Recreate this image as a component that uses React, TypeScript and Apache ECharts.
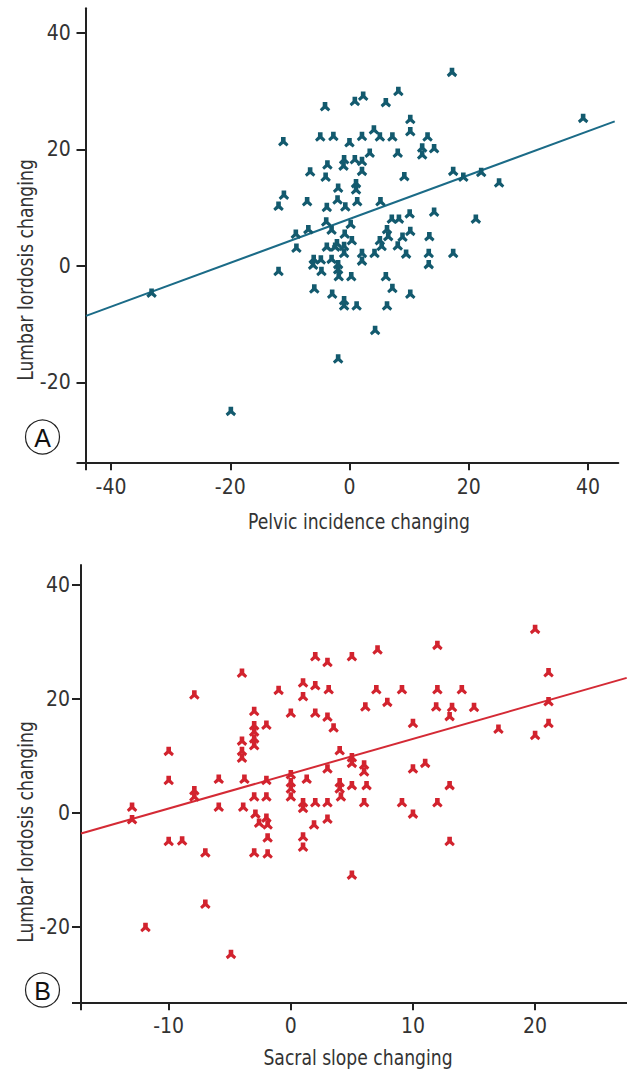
import React, { useEffect, useRef } from "react";
import * as echarts from "echarts";

// Panel A: Pelvic incidence changing vs Lumbar lordosis changing
const pelvicVsLordosis: [number, number][] = [
  [-33.2, -4.7], [-19.9, -25.0], [39.2, 25.3], [17.2, 33.2], [25.1, 14.2],
  [-11.1, 21.3], [-11.0, 12.1], [-11.9, 10.2], [-11.9, -1.0], [-9.0, 5.4], [-8.9, 3.0],
  [8.2, 29.9], [2.3, 29.1], [0.9, 28.2], [6.1, 28.0], [-4.1, 27.3], [10.2, 25.1], [4.1, 23.3],
  [10.2, 23.0], [5.1, 22.1], [-4.9, 22.1], [-2.7, 22.2], [2.1, 22.2], [7.2, 22.1], [13.1, 22.1],
  [0, 21.1], [12.2, 20.2], [14.2, 20.1], [12.2, 19.0], [3.4, 19.3], [8.1, 19.3], [-0.9, 18.2],
  [0.9, 18.2], [2.1, 17.9], [-1.0, 17.1], [-3.7, 17.3], [-6.6, 16.1], [-4.0, 15.2], [2.1, 16.2],
  [9.2, 15.3], [17.4, 16.2], [19.1, 15.2], [22.1, 16.0], [-1.9, 13.3], [1.1, 14.1], [1.1, 13.0],
  [-7.1, 11.0], [-3.8, 10.0], [-2.0, 11.3], [-0.7, 10.1], [1.3, 11.0], [5.2, 11.0], [-6.9, 6.2],
  [-3.9, 7.5], [-3.0, 6.1], [0.2, 7.1], [-0.8, 5.4], [0.4, 4.3], [7.1, 8.0], [8.3, 8.0],
  [10.1, 8.9], [14.2, 9.2], [21.2, 8.0], [6.3, 6.2], [6.5, 5.0], [10.2, 5.9], [5.1, 4.3],
  [8.9, 4.9], [13.4, 5.0],
  [-2.1, 3.8], [-3.8, 3.2], [-2.4, 3.2], [-0.9, 3.3], [-0.9, 2.1], [5.4, 3.3], [8.1, 3.4],
  [9.5, 2.0], [4.2, 2.1], [2.1, 2.1], [2.1, 0.8], [13.3, 2.1], [17.4, 2.1], [13.3, 0.2],
  [-6.0, 1.1], [-4.8, 1.0], [-6.1, 0.1], [-3.0, 1.1], [-1.9, 0.2], [-1.9, -0.7], [-4.7, -1.0],
  [-1.8, -1.9], [0.3, -1.9], [6.1, -1.9], [-5.9, -4.0], [-2.9, -4.9], [7.2, -3.9], [10.2, -4.9],
  [-0.9, -6.0], [-0.9, -6.9], [1.2, -6.9], [6.3, -6.9], [4.3, -11.1], [-1.9, -16.0],
];
const fitLineA: [number, number][] = [[-44.2, -8.6], [44.5, 24.8]];

// Panel B: Sacral slope changing vs Lumbar lordosis changing
const sacralVsLordosis: [number, number][] = [
  [-13, 1.0], [-13, -1.2], [-10, 10.8], [-10, 5.7], [-7.9, 20.7], [-7.9, 3.9], [-7.9, 2.8],
  [-5.9, 5.9], [-5.9, 1.0], [-4.0, 24.5], [-4.0, 12.6], [-4.0, 10.8], [-4.0, 9.6], [-3.8, 5.9],
  [-3.9, 1.0], [-3.0, 17.8], [-3.0, 15.3], [-3.0, 14.2], [-3.0, 13.0], [-3.0, 11.8], [-3.0, 2.8],
  [-2.0, 15.4], [-2.0, 5.7], [-2.0, 2.8], [-1.0, 21.5], [0, 17.5], [0, 6.7], [0, 5.3], [0, 4.2],
  [0, 2.8], [1.0, 22.8], [1.0, 20.4], [1.3, 5.9], [1.0, 1.8], [2.0, 27.4], [2.0, 22.3],
  [2.0, 17.5], [2.0, 1.8],
  [-2.9, -0.2], [-2.6, -1.8], [-2.0, -0.9], [-1.9, -2.1], [-1.9, -4.4], [-3.0, -7.0], [-1.9, -7.2],
  [-10.0, -5.0], [-8.9, -4.9], [-7.0, -7.0], [-7.0, -16.0], [-11.9, -20.1], [-4.9, -24.8],
  [1.0, 0.8], [1.9, -2.1], [1.0, -4.2], [1.0, -6.0],
  [20.0, 32.2], [12.0, 29.4], [7.1, 28.6], [5.0, 27.4], [3.0, 26.4], [21.1, 24.6], [3.1, 21.6],
  [7.0, 21.6], [9.1, 21.6], [12.0, 21.6], [14.0, 21.6], [6.1, 18.6], [7.9, 19.4], [11.9, 18.6],
  [13.2, 18.5], [15.0, 18.5], [21.1, 19.5], [13.0, 16.9], [3.0, 16.8], [3.5, 14.9], [10.0, 15.7],
  [17.0, 14.7], [21.1, 15.7], [20.0, 13.6], [4.0, 10.9], [5.0, 9.7], [5.0, 8.7], [6.0, 8.4],
  [6.0, 7.2], [3.0, 7.7], [10.0, 7.7], [11.0, 8.7], [4.0, 5.3], [4.0, 4.2], [4.1, 2.8],
  [5.0, 4.8], [6.2, 4.8], [13.0, 4.8], [3.0, 1.8], [6.0, 1.8], [9.1, 1.8], [12.0, 1.8],
  [10.0, -0.2], [3.0, -1.1], [13.0, -5.0], [5.0, -10.9],
];
const fitLineB: [number, number][] = [[-17.18, -3.6], [27.5, 23.7]];

// Axis ticks and labels
const xLabelsA = [-40, -20, 0, 20, 40];
const yLabelsA = [-20, 0, 20, 40];
const xLabelsB = [-10, 0, 10, 20];
const yLabelsB = [-20, 0, 20, 40];
const rangeXA: [number, number] = [-44.2, 45.1];
const rangeYA: [number, number] = [-33.8, 44.2];
const rangeXB: [number, number] = [-17.18, 27.5];
const rangeYB: [number, number] = [-33.2, 43.5];
const titleXA = "Pelvic incidence changing";
const titleXB = "Sacral slope changing";
const titleY = "Lumbar lordosis changing";

const FONT = '"Liberation Sans Narrow", "DejaVu Sans Condensed", "Roboto", sans-serif';
const MARKER = "path://M2.8 0 H7.2 V4 L10 6.8 L8.2 9 L5 6.4 L1.8 9 L0 6.8 L2.8 4 Z";
const TEAL = "#135a6e";
const TEAL_LINE = "#1b6b87";
const RED = "#d2232e";
const RED_LINE = "#d42a35";
const AXIS = "#222";
const TEXT = "#333";

function xAxisCfg(grid: number, range: [number, number], labels: number[], margin: number, tickLen: number) {
  return {
    type: "value",
    gridIndex: grid,
    min: range[0],
    max: range[1],
    axisLine: { show: true, onZero: false, lineStyle: { color: AXIS, width: 2 } },
    axisTick: { show: true, length: tickLen, lineStyle: { color: AXIS, width: 2 }, customValues: [range[0], ...labels] },
    axisLabel: { customValues: labels, fontFamily: FONT, fontSize: 21, color: TEXT, margin },
    splitLine: { show: false },
  };
}

function yAxisCfg(grid: number, range: [number, number], labels: number[], margin: number, tickLen: number) {
  return {
    type: "value",
    gridIndex: grid,
    min: range[0],
    max: range[1],
    axisLine: { show: true, onZero: false, lineStyle: { color: AXIS, width: 2 } },
    axisTick: { show: true, length: tickLen, lineStyle: { color: AXIS, width: 2 }, customValues: [range[0], ...labels] },
    axisLabel: { customValues: labels, fontFamily: FONT, fontSize: 21, color: TEXT, margin },
    splitLine: { show: false },
  };
}

function title(text: string, x: number, y: number, rotation: number) {
  return {
    type: "text", x, y, rotation, scaleX: 0.91,
    style: { text, fontFamily: FONT, fontSize: 21, fill: TEXT, textAlign: "center", textVerticalAlign: "middle" },
  };
}

function badge(letter: string, cx: number, cy: number) {
  return [
    { type: "circle", shape: { cx, cy, r: 17 }, style: { fill: "none", stroke: "#222", lineWidth: 1.2 } },
    {
      type: "text", x: cx, y: cy + 1,
      style: { text: letter, fontFamily: '"Liberation Sans", Arial, sans-serif', fontSize: 25, fill: "#111", textAlign: "center", textVerticalAlign: "middle" },
    },
  ];
}

export default function App() {
  const ref = useRef<HTMLDivElement>(null);
  useEffect(() => {
    if (!ref.current) return;
    const chart = echarts.init(ref.current, null, { renderer: "svg" });
    chart.setOption({
      animation: false,
      backgroundColor: "#fff",
      grid: [
        { left: 86, right: 8.7, top: 8.3, bottom: 1071 - 462.7 },
        { left: 81, right: 0.3, top: 565, bottom: 1071 - 1002.3 },
      ],
      xAxis: [
        xAxisCfg(0, rangeXA, xLabelsA, 14, 7.5),
        xAxisCfg(1, rangeXB, xLabelsB, 13, 8),
      ],
      yAxis: [
        yAxisCfg(0, rangeYA, yLabelsA, 15.3, 9.5),
        yAxisCfg(1, rangeYB, yLabelsB, 11, 9),
      ],
      graphic: [
        title(titleY, 26, 270, Math.PI / 2),
        title(titleY, 26, 832, Math.PI / 2),
        title(titleXA, 359, 522, 0),
        title(titleXB, 358, 1058, 0),
        ...badge("A", 42.5, 437),
        ...badge("B", 42.5, 990),
      ],
      series: [
        {
          type: "line", xAxisIndex: 0, yAxisIndex: 0, data: fitLineA, showSymbol: false, symbol: "none",
          lineStyle: { color: TEAL_LINE, width: 2 }, z: 1, silent: true,
        },
        {
          type: "scatter", xAxisIndex: 0, yAxisIndex: 0, data: pelvicVsLordosis,
          symbol: MARKER, symbolSize: [10.5, 9.5], itemStyle: { color: TEAL, opacity: 1 }, z: 2,
        },
        {
          type: "line", xAxisIndex: 1, yAxisIndex: 1, data: fitLineB, showSymbol: false, symbol: "none",
          lineStyle: { color: RED_LINE, width: 2 }, z: 1, silent: true,
        },
        {
          type: "scatter", xAxisIndex: 1, yAxisIndex: 1, data: sacralVsLordosis,
          symbol: MARKER, symbolSize: [10.5, 9.5], itemStyle: { color: RED, opacity: 1 }, z: 2,
        },
      ],
    });
    return () => chart.dispose();
  }, []);
  return (
    <div
      ref={ref}
      style={{ position: "fixed", left: 0, top: 0, width: 627, height: 1071, background: "#fff" }}
    />
  );
}
